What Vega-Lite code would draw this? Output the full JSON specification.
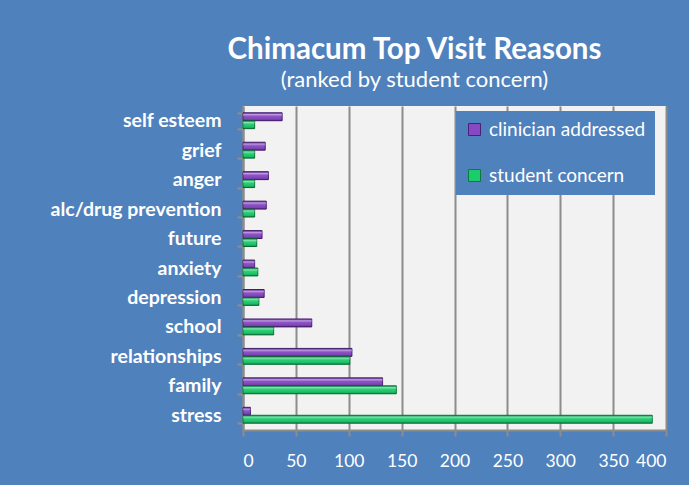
{
  "$schema": "https://vega.github.io/schema/vega-lite/v6.json",
  "width": 423,
  "height": 324,
  "autosize": {"type": "none"},
  "padding": {"left": 243, "top": 106, "right": 23, "bottom": 55},
  "background": "#4F81BD",
  "title": {
    "text": "Chimacum Top Visit Reasons",
    "subtitle": "(ranked by student concern)",
    "color": "white",
    "subtitleColor": "white",
    "font": "Lato",
    "subtitleFont": "Lato",
    "fontSize": 29.5,
    "subtitleFontSize": 22,
    "fontWeight": "bold",
    "subtitleFontWeight": "normal",
    "anchor": "middle",
    "dx": -40,
    "offset": 4,
    "subtitlePadding": 5
  },
  "data": {
    "values": [
      {"reason": "self esteem", "series": "clinician addressed", "count": 37},
      {"reason": "self esteem", "series": "student concern", "count": 11},
      {"reason": "grief", "series": "clinician addressed", "count": 21},
      {"reason": "grief", "series": "student concern", "count": 11},
      {"reason": "anger", "series": "clinician addressed", "count": 24},
      {"reason": "anger", "series": "student concern", "count": 11},
      {"reason": "alc/drug prevention", "series": "clinician addressed", "count": 22},
      {"reason": "alc/drug prevention", "series": "student concern", "count": 11},
      {"reason": "future", "series": "clinician addressed", "count": 18},
      {"reason": "future", "series": "student concern", "count": 13},
      {"reason": "anxiety", "series": "clinician addressed", "count": 11},
      {"reason": "anxiety", "series": "student concern", "count": 14},
      {"reason": "depression", "series": "clinician addressed", "count": 20},
      {"reason": "depression", "series": "student concern", "count": 15},
      {"reason": "school", "series": "clinician addressed", "count": 65},
      {"reason": "school", "series": "student concern", "count": 29},
      {"reason": "relationships", "series": "clinician addressed", "count": 103},
      {"reason": "relationships", "series": "student concern", "count": 101},
      {"reason": "family", "series": "clinician addressed", "count": 132},
      {"reason": "family", "series": "student concern", "count": 145},
      {"reason": "stress", "series": "clinician addressed", "count": 7},
      {"reason": "stress", "series": "student concern", "count": 387}
    ]
  },
  "encoding": {
    "y": {
      "field": "reason",
      "type": "nominal",
      "sort": ["self esteem", "grief", "anger", "alc/drug prevention", "future", "anxiety", "depression", "school", "relationships", "family", "stress"],
      "scale": {"paddingInner": 0.46, "paddingOuter": 0.23},
      "axis": {
        "title": null,
        "domainColor": "#8C8C8C",
        "domainWidth": 2,
        "tickColor": "#8C8C8C",
        "tickWidth": 2,
        "tickSize": 6,
        "tickBand": "extent",
        "labelColor": "white",
        "labelFont": "Lato",
        "labelFontWeight": "bold",
        "labelFontSize": 19.5,
        "labelPadding": 16
      }
    },
    "x": {
      "field": "count",
      "type": "quantitative",
      "scale": {"domain": [0, 400], "nice": false},
      "axis": {
        "title": null,
        "values": [0, 50, 100, 150, 200, 250, 300, 350, 400],
        "grid": true,
        "gridColor": "#8C8C8C",
        "gridWidth": 2,
        "domainColor": "#8C8C8C",
        "domainWidth": 2,
        "tickColor": "#8C8C8C",
        "tickWidth": 2,
        "tickSize": 6,
        "labelColor": "white",
        "labelFont": "Lato",
        "labelFontSize": 17.5,
        "labelPadding": 16
      }
    },
    "yOffset": {"field": "series", "sort": ["clinician addressed", "student concern"]}
  },
  "layer": [
    {
      "mark": {"type": "bar", "strokeWidth": 1},
      "encoding": {
        "color": {
          "field": "series",
          "type": "nominal",
          "scale": {"domain": ["clinician addressed", "student concern"], "range": ["#8748C4", "#1CCB6C"]},
          "legend": {
            "title": null,
            "orient": "none",
            "legendX": 213,
            "legendY": 5,
            "fillColor": "#4F81BD",
            "padding": 9,
            "symbolType": "square",
            "symbolSize": 144,
            "symbolStrokeColor": "#333333",
            "symbolStrokeWidth": 1,
            "labelFontSize": 19,
            "labelColor": "white",
            "labelFont": "Lato",
            "labelOffset": 5,
            "labelLimit": 300,
            "rowPadding": 26
          }
        },
        "stroke": {
          "field": "series",
          "type": "nominal",
          "scale": {"domain": ["clinician addressed", "student concern"], "range": ["#4A1F78", "#0B7A3C"]},
          "legend": null
        }
      }
    },
    {
      "mark": {
        "type": "bar",
        "stroke": null,
        "fill": {
          "gradient": "linear", "x1": 0, "y1": 0, "x2": 0, "y2": 1,
          "stops": [
            {"offset": 0, "color": "rgba(0,0,0,0.2)"},
            {"offset": 0.22, "color": "rgba(255,255,255,0.45)"},
            {"offset": 0.45, "color": "rgba(255,255,255,0.05)"},
            {"offset": 0.8, "color": "rgba(0,0,0,0.08)"},
            {"offset": 1, "color": "rgba(0,0,0,0.3)"}
          ]
        }
      }
    }
  ],
  "config": {"view": {"fill": "#F2F2F2", "stroke": null}}
}
